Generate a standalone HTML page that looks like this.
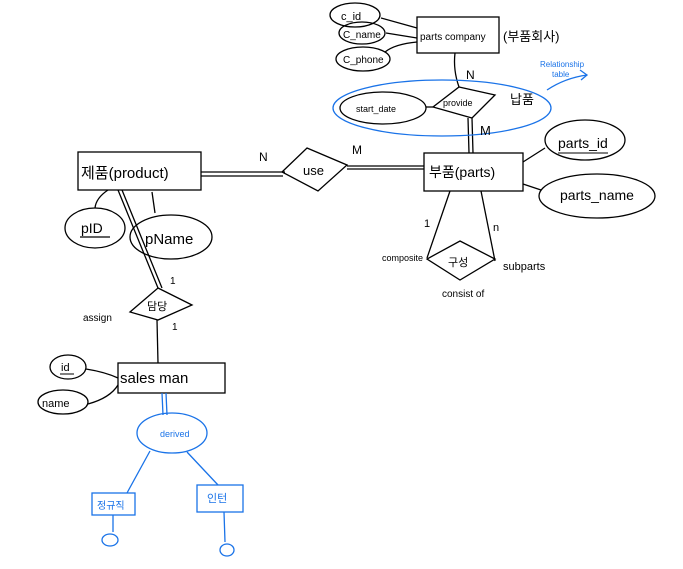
<!DOCTYPE html>
<html><head><meta charset="utf-8"><style>
html,body{margin:0;padding:0;background:#fff;}
svg{display:block;}
text{font-family:"Liberation Sans","Noto Sans CJK KR",sans-serif;}
</style></head><body>
<svg width="683" height="569" viewBox="0 0 683 569" xmlns="http://www.w3.org/2000/svg">
<g fill="none" stroke="#000" stroke-width="1.3">
<rect x="417" y="17" width="82" height="36"/>
<ellipse cx="355" cy="15" rx="25" ry="12"/>
<ellipse cx="362" cy="33" rx="23" ry="11"/>
<ellipse cx="363" cy="59" rx="27" ry="12"/>
<path d="M381 18 L417 28 M386 33 L417 38 M385 52 Q395 44 417 42"/>
<path d="M455 53 Q453 70 459 87"/>
<polygon points="459,87 495,95 472,118 433,107"/>
<ellipse cx="383" cy="108" rx="43" ry="16"/>
<path d="M426 107 L433 107"/>
<path d="M468 118 L469 153 M472 118 L473 153"/>
<rect x="424" y="153" width="99" height="38"/>
<ellipse cx="585" cy="140" rx="40" ry="20"/>
<ellipse cx="597" cy="196" rx="58" ry="22"/>
<path d="M523 162 L545 148 M523 184 L541 190"/>
<path d="M450 191 L427 258 M481 191 L495 261"/>
<polygon points="460,241 495,259 460,280 427,259"/>
<rect x="78" y="152" width="123" height="38"/>
<path d="M201 172 L285 172 M201 176 L283 176"/>
<polygon points="307,148 347,165 318,191 282,172"/>
<path d="M347 166 L424 166 M347 169 L424 169"/>
<ellipse cx="95" cy="228" rx="30" ry="20"/>
<path d="M80 237 L110 237" />
<ellipse cx="171" cy="237" rx="41" ry="22"/>
<path d="M108 190 Q96 198 95 208 M152 192 L155 213"/>
<path d="M118 190 L158 288 M122 190 L162 288"/>
<polygon points="158,288 192,305 158,320 130,312"/>
<path d="M157 320 L158 363"/>
<rect x="118" y="363" width="107" height="30"/>
<ellipse cx="68" cy="367" rx="18" ry="12"/>
<ellipse cx="63" cy="402" rx="25" ry="12"/>
<path d="M86 369 Q105 372 118 378 M88 404 Q110 398 118 385"/>
</g>
<g fill="none" stroke="#000" stroke-width="1"><path d="M558 153 L608 153"/><path d="M60 374 L74 374"/></g>
<g fill="none" stroke="#1a73e8" stroke-width="1.3">
<ellipse cx="442" cy="108" rx="109" ry="28"/>
<path d="M547 90 Q565 78 587 75 M580 70 L587 75 L581 80"/>
<path d="M162 393 L163 415 M166 393 L167 415"/>
<ellipse cx="172" cy="433" rx="35" ry="20"/>
<path d="M150 451 L127 493 M187 452 L218 485"/>
<rect x="92" y="493" width="43" height="22"/>
<rect x="197" y="485" width="46" height="27"/>
<path d="M113 515 L113 532 M224 512 L225 542"/>
<ellipse cx="110" cy="540" rx="8" ry="6"/>
<ellipse cx="227" cy="550" rx="7" ry="6"/>
</g>
<g font-size="11" fill="#000">
<text x="341" y="20">c_id</text>
<text x="343" y="38" font-size="10">C_name</text>
<text x="343" y="63" font-size="10">C_phone</text>
<text x="420" y="40" font-size="10">parts company</text>
<text x="503" y="41" font-size="13">(부품회사)</text>
<text x="466" y="79" font-size="12">N</text>
<text x="443" y="106" font-size="9">provide</text>
<text x="356" y="112" font-size="9">start_date</text>
<text x="510" y="104" font-size="13">납품</text>
<text x="480" y="135" font-size="13">M</text>
<text x="429" y="177" font-size="14">부품(parts)</text>
<text x="558" y="148" font-size="14">parts_id</text>
<text x="560" y="200" font-size="14">parts_name</text>
<text x="424" y="227">1</text>
<text x="493" y="231">n</text>
<text x="448" y="266" font-size="11">구성</text>
<text x="382" y="261" font-size="9">composite</text>
<text x="503" y="270" font-size="11">subparts</text>
<text x="442" y="297" font-size="10">consist of</text>
<text x="81" y="178" font-size="15">제품(product)</text>
<text x="259" y="161" font-size="12">N</text>
<text x="352" y="154" font-size="12">M</text>
<text x="303" y="175" font-size="13">use</text>
<text x="81" y="233" font-size="14">pID</text>
<text x="145" y="244" font-size="15">pName</text>
<text x="170" y="284" font-size="10">1</text>
<text x="172" y="330" font-size="10">1</text>
<text x="147" y="310" font-size="11">담당</text>
<text x="83" y="321" font-size="10">assign</text>
<text x="120" y="383" font-size="15">sales man</text>
<text x="61" y="371" font-size="11">id</text>
<text x="42" y="407" font-size="11">name</text>
</g>
<g fill="#1a73e8">
<text x="160" y="437" font-size="9">derived</text>
<text x="97" y="509" font-size="10">정규직</text>
<text x="207" y="502" font-size="11">인턴</text>
<text x="540" y="67" font-size="8">Relationship</text>
<text x="552" y="77" font-size="8">table</text>
</g>
</svg>
</body></html>
